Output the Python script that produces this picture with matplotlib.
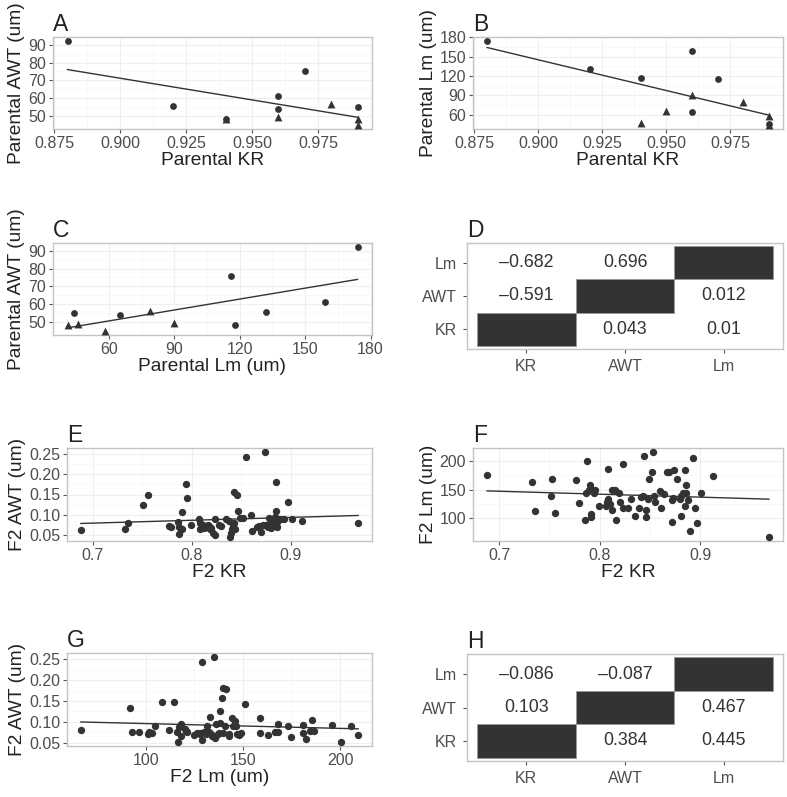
import matplotlib
matplotlib.use("Agg")
import matplotlib.pyplot as plt
import numpy as np
from matplotlib.ticker import FixedLocator

plt.rcParams['font.family'] = ['Liberation Sans', 'DejaVu Sans']

# ---- parental data (circles / triangles) ----
a_kr_circ = [0.88, 0.92, 0.94, 0.96, 0.96, 0.97, 0.99]
a_awt_circ = [92, 55.5, 48, 61, 54, 75.5, 55]
a_kr_tri = [0.94, 0.96, 0.98, 0.99, 0.99]
a_awt_tri = [48.5, 49.5, 56.5, 48, 45]

b_kr_circ = [0.88, 0.92, 0.94, 0.96, 0.96, 0.97, 0.99]
b_lm_circ = [174, 131, 117, 159, 64, 115, 45]
b_kr_tri = [0.94, 0.95, 0.96, 0.98, 0.99, 0.99]
b_lm_tri = [47, 65, 90, 79, 58, 44]

c_lm_circ = [44, 65, 116, 118, 132, 159, 174]
c_awt_circ = [55, 54, 76, 48, 55.5, 61, 92]
c_lm_tri = [41, 46, 58, 79, 90]
c_awt_tri = [48, 49, 45, 56, 49.5]

# ---- F2 data ----
e_kr = [0.688, 0.733, 0.736, 0.751, 0.756, 0.777, 0.779, 0.786, 0.787, 0.787,
        0.790, 0.790, 0.794, 0.795, 0.799, 0.807, 0.808, 0.808, 0.811, 0.814,
        0.816, 0.818, 0.819, 0.821, 0.823, 0.823, 0.827, 0.830, 0.835, 0.838,
        0.839, 0.840, 0.841, 0.842, 0.843, 0.843, 0.846, 0.847, 0.849, 0.852,
        0.855, 0.860, 0.861, 0.866, 0.868, 0.870, 0.872, 0.874, 0.875, 0.877,
        0.878, 0.879, 0.881, 0.882, 0.884, 0.885, 0.885, 0.886, 0.886, 0.887,
        0.890, 0.893, 0.897, 0.901, 0.911, 0.968,
        0.812, 0.817, 0.844, 0.876, 0.880, 0.883]
e_awt = [0.063, 0.066, 0.081, 0.125, 0.148, 0.073, 0.071, 0.083, 0.070, 0.052,
         0.066, 0.107, 0.177, 0.141, 0.074, 0.089, 0.066, 0.079, 0.074, 0.070,
         0.076, 0.064, 0.068, 0.056, 0.050, 0.090, 0.074, 0.072, 0.090, 0.085,
         0.046, 0.056, 0.064, 0.072, 0.156, 0.080, 0.148, 0.110, 0.093, 0.093,
         0.242, 0.099, 0.061, 0.070, 0.073, 0.057, 0.074, 0.254, 0.076, 0.070,
         0.091, 0.079, 0.072, 0.083, 0.095, 0.109, 0.180, 0.070, 0.082, 0.090,
         0.089, 0.089, 0.131, 0.089, 0.086, 0.080,
         0.068, 0.072, 0.066, 0.072, 0.068, 0.075]

f_kr = [0.688, 0.733, 0.736, 0.752, 0.751, 0.755, 0.776, 0.779, 0.787, 0.785,
        0.791, 0.791, 0.790, 0.786, 0.789, 0.792, 0.794, 0.795, 0.799, 0.806,
        0.807, 0.808, 0.808, 0.810, 0.812, 0.812, 0.815, 0.816, 0.820, 0.819,
        0.823, 0.823, 0.828, 0.831, 0.835, 0.839, 0.841, 0.843, 0.844, 0.846,
        0.846, 0.848, 0.849, 0.852, 0.853, 0.854, 0.855, 0.861, 0.860, 0.864,
        0.867, 0.869, 0.872, 0.872, 0.873, 0.874, 0.877, 0.880, 0.881, 0.881,
        0.883, 0.885, 0.885, 0.886, 0.886, 0.888, 0.890, 0.893, 0.895, 0.897,
        0.901, 0.912, 0.968]
f_lm = [175, 163, 112, 168, 138, 109, 167, 126, 200, 97,
        108, 102, 159, 145, 149, 150, 144, 150, 121, 122,
        129, 186, 134, 124, 115, 150, 149, 96, 129, 144,
        196, 117, 117, 134, 104, 118, 137, 139, 209, 101,
        115, 134, 168, 181, 216, 139, 129, 118, 147, 143,
        181, 182, 132, 93, 135, 184, 168, 134, 103, 138,
        144, 185, 121, 159, 145, 132, 78, 206, 118, 92,
        144, 174, 67]

g_lm = [66.6, 91.8, 92.9, 96.4, 101.1, 101.8, 103.2, 104.5, 108.6, 112.0,
        114.6, 116.1, 116.4, 117.0, 118.2, 118.2, 120.2, 121.4, 126.4, 127.9,
        129.1, 129.1, 130.0, 130.9, 131.6, 132.5, 132.9, 133.6, 135.0, 135.7,
        136.3, 137.5, 138.4, 138.4, 139.3, 140.0, 141.4, 140.7, 142.9, 144.3,
        145.0, 146.1, 146.4, 148.2, 149.1, 150.9, 158.6, 158.9, 162.9, 166.4,
        167.9, 168.0, 173.2, 175.0, 180.7, 180.9, 182.7, 184.5, 185.7, 186.6,
        195.7, 200.4, 205.4, 209.3,
        120.5, 125.0, 128.0, 131.0, 134.0, 137.0, 140.0, 143.0, 147.0]
g_awt = [0.080, 0.132, 0.076, 0.076, 0.070, 0.076, 0.073, 0.091, 0.148, 0.081,
         0.148, 0.075, 0.052, 0.087, 0.095, 0.065, 0.083, 0.075, 0.073, 0.070,
         0.243, 0.056, 0.076, 0.070, 0.089, 0.076, 0.111, 0.070, 0.255, 0.061,
         0.094, 0.073, 0.097, 0.125, 0.157, 0.181, 0.179, 0.091, 0.070, 0.109,
         0.089, 0.101, 0.091, 0.068, 0.073, 0.143, 0.073, 0.108, 0.068, 0.075,
         0.094, 0.075, 0.089, 0.064, 0.093, 0.073, 0.058, 0.079, 0.104, 0.079,
         0.093, 0.052, 0.091, 0.069,
         0.078, 0.068, 0.074, 0.072, 0.066, 0.070, 0.072, 0.066, 0.071]

# ---- correlation tables (row = y variable, col = x variable) ----
corr_vars = ['KR', 'AWT', 'Lm']
corr_d = [[None, 0.043, 0.01],
          [-0.591, None, 0.012],
          [-0.682, 0.696, None]]
corr_h = [[None, 0.384, 0.445],
          [0.103, None, 0.467],
          [-0.086, -0.087, None]]

PT = '#333333'
TICKC = '#4D4D4D'


def style_ax(ax, title):
  ax.set_facecolor('white')
  for s in ax.spines.values():
    s.set_color('#C4C4C4')
    s.set_linewidth(1.0)
  ax.tick_params(axis='both', which='major', length=3, width=0.8,
                 color='#555555', labelcolor=TICKC, labelsize=11.5, pad=2)
  ax.tick_params(axis='both', which='minor', length=0)
  ax.grid(True, which='major', color='#EFEFEF', lw=0.8, zorder=0)
  ax.grid(True, which='minor', color='#F7F7F7', lw=0.6, zorder=0)
  ax.set_axisbelow(True)
  ax.set_title(title, loc='left', fontsize=16.5, color='#222222', pad=4)


def scatter_panel(ax, x_c, y_c, x_t, y_t, xlabel, ylabel, title, size=24):
  style_ax(ax, title)
  ax.scatter(x_c, y_c, s=size, marker='o', color=PT, lw=0, zorder=3)
  if x_t is not None:
    ax.scatter(x_t, y_t, s=size + 8, marker='^', color=PT, lw=0, zorder=3)
    xs = np.concatenate([x_c, x_t])
    ys = np.concatenate([y_c, y_t])
  else:
    xs, ys = np.asarray(x_c), np.asarray(y_c)
  k, b = np.polyfit(xs, ys, 1)
  xx = np.array([xs.min(), xs.max()])
  ax.plot(xx, k * xx + b, color=PT, lw=1.0, zorder=2)
  ax.margins(0.05)
  ax.set_xlabel(xlabel, fontsize=13.8, color='#222222', labelpad=1)
  ax.set_ylabel(ylabel, fontsize=13.8, color='#222222', labelpad=2)


def set_ticks(ax, xt, yt, xfmt, yfmt):
  ax.xaxis.set_major_locator(FixedLocator(xt))
  ax.yaxis.set_major_locator(FixedLocator(yt))
  ax.set_xticklabels([xfmt.format(v) for v in xt])
  ax.set_yticklabels([yfmt.format(v) for v in yt])
  xm = [(xt[i] + xt[i + 1]) / 2 for i in range(len(xt) - 1)]
  ym = [(yt[i] + yt[i + 1]) / 2 for i in range(len(yt) - 1)]
  ax.xaxis.set_minor_locator(FixedLocator(xm))
  ax.yaxis.set_minor_locator(FixedLocator(ym))


def corr_panel(ax, table, title):
  style_ax(ax, title)
  ax.grid(False, which='both')
  n = len(corr_vars)
  for r in range(n):
    for c in range(n):
      v = table[r][c]
      if v is None:
        ax.bar(c + 1, 1, width=1, bottom=r + 0.5, color='#333333',
               edgecolor='#999999', lw=0.6, zorder=2)
      else:
        ax.text(c + 1, r + 1, '{:g}'.format(v).replace('-', '\u2013'),
                ha='center', va='center', fontsize=12.8, color='#333333')
  ax.set_xlim(0.4, n + 0.6)
  ax.set_ylim(0.4, n + 0.6)
  ax.set_xticks(range(1, n + 1))
  ax.set_yticks(range(1, n + 1))
  ax.set_xticklabels(corr_vars)
  ax.set_yticklabels(corr_vars)
  ax.tick_params(axis='both', labelsize=11.5, pad=4)


fig = plt.figure(figsize=(7.87, 7.97), dpi=100)
H = 797.0
W = 787.0


def rect(x0, x1, y0, y1):
  return [x0 / W, 1 - y1 / H, (x1 - x0) / W, (y1 - y0) / H]


axA = fig.add_axes(rect(53, 372, 37, 129))
scatter_panel(axA, a_kr_circ, a_awt_circ, a_kr_tri, a_awt_tri,
              'Parental KR', 'Parental AWT (um)', 'A')
set_ticks(axA, [0.875, 0.900, 0.925, 0.950, 0.975], [50, 60, 70, 80, 90], '{:.3f}', '{:g}')

axB = fig.add_axes(rect(473, 783, 37, 129))
scatter_panel(axB, b_kr_circ, b_lm_circ, b_kr_tri, b_lm_tri,
              'Parental KR', 'Parental Lm (um)', 'B')
set_ticks(axB, [0.875, 0.900, 0.925, 0.950, 0.975], [60, 90, 120, 150, 180], '{:.3f}', '{:g}')

axC = fig.add_axes(rect(53, 372, 243, 335))
scatter_panel(axC, c_lm_circ, c_awt_circ, c_lm_tri, c_awt_tri,
              'Parental Lm (um)', 'Parental AWT (um)', 'C')
set_ticks(axC, [60, 90, 120, 150, 180], [50, 60, 70, 80, 90], '{:g}', '{:g}')

axD = fig.add_axes(rect(467, 783, 243, 349))
corr_panel(axD, corr_d, 'D')

axE = fig.add_axes(rect(67, 372, 448, 541))
scatter_panel(axE, e_kr, e_awt, None, None, 'F2 KR', 'F2 AWT (um)', 'E', size=28)
set_ticks(axE, [0.7, 0.8, 0.9], [0.05, 0.10, 0.15, 0.20, 0.25], '{:.1f}', '{:.2f}')

axF = fig.add_axes(rect(473, 783, 448, 541))
scatter_panel(axF, f_kr, f_lm, None, None, 'F2 KR', 'F2 Lm (um)', 'F', size=28)
set_ticks(axF, [0.7, 0.8, 0.9], [100, 150, 200], '{:.1f}', '{:g}')

axG = fig.add_axes(rect(67, 372, 653, 746))
scatter_panel(axG, g_lm, g_awt, None, None, 'F2 Lm (um)', 'F2 AWT (um)', 'G', size=28)
set_ticks(axG, [100, 150, 200], [0.05, 0.10, 0.15, 0.20, 0.25], '{:g}', '{:.2f}')

axH = fig.add_axes(rect(467, 783, 654, 761))
corr_panel(axH, corr_h, 'H')

fig.savefig('out.png', dpi=100, facecolor='white')
